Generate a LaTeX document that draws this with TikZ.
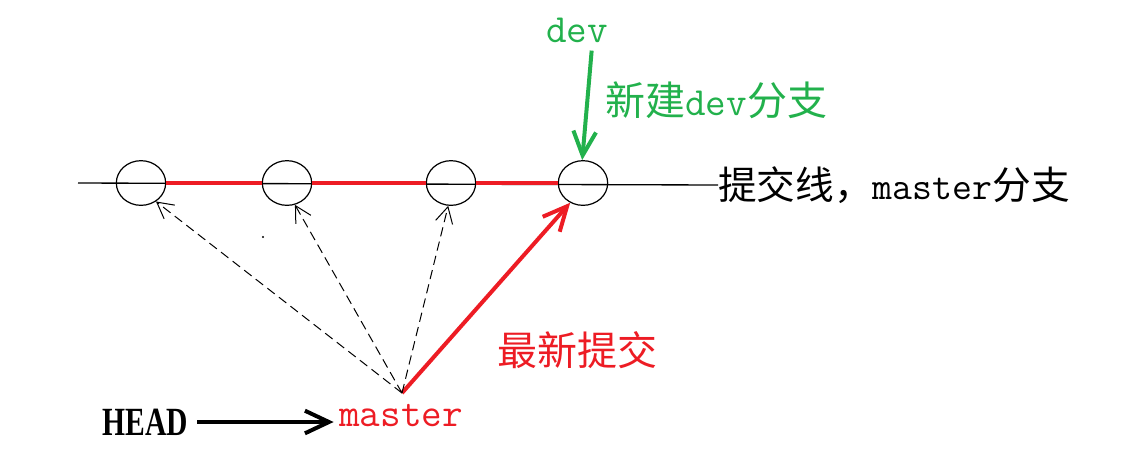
\documentclass[tikz,border=0pt]{standalone}
\usepackage{fontspec}
\newfontfamily\cjk{Noto Sans CJK SC}
\newfontfamily\headfont{Liberation Serif}
\usetikzlibrary{arrows.meta,shapes.geometric}
\definecolor{pred}{RGB}{237,28,36}
\definecolor{pgreen}{RGB}{34,177,76}
\begin{document}
\begin{tikzpicture}[x=0.75pt,y=0.75pt,
  commit/.style={ellipse,draw=black,line width=0.9pt,minimum width=37pt,minimum height=33.5pt,inner sep=0pt},
  lbl/.style={inner sep=0pt,font=\fontsize{30}{32}\selectfont},
  redline/.style={draw=pred,line width=3pt},
  thickarrow/.style={line width=3pt,-{Straight Barb[length=18pt,width=17pt,line width=3pt]}},
  dasharrow/.style={line width=0.75pt,dash pattern=on 7pt off 4pt,-{Straight Barb[length=12pt,width=13pt,line width=0.75pt]}}]
\useasboundingbox (0,0) rectangle (1127,-462);
% commits
\node[commit] (c1) at (141,-183) {};
\node[commit] (c2) at (287,-183) {};
\node[commit] (c3) at (451,-183) {};
\node[commit] (c4) at (583,-183) {};
% labels
\node[lbl,anchor=west,font=\fontsize{29}{31}\selectfont] (t) at (718,-185) {\cjk 提交线，\ttfamily master\cjk 分支};
\node[lbl,text=pgreen] (dev) at (577,-30) {\ttfamily dev};
\node[lbl,text=pgreen,anchor=west] (nd) at (605,-100) {\cjk 新建\ttfamily dev\cjk 分支};
\node[lbl,text=pred] (zx) at (577,-350) {\cjk 最新提交};
\node[lbl,text=pred] (m) at (401,-416) {\ttfamily master};
\node[lbl] (h) at (145,-422) {\scalebox{0.74}[1]{\headfont\bfseries HEAD}};
\coordinate (L) at (78,-183);
\coordinate (o) at (402,-393);
% commit line
\draw[line width=1pt] (L) -- (t.west);
\draw[redline] (c1.east) -- (c2.west);
\draw[redline] (c2.east) -- (c3.west);
\draw[redline] (c3.east) -- (c4.west);
% arrows
\draw[thickarrow,draw=pgreen] ([xshift=11pt,yshift=-6pt]dev.south) -- (c4.92);
\draw[thickarrow,draw=pred] (o) -- (c4.-123);
\draw[thickarrow] ([xshift=7pt]h.east) -- ([xshift=-4pt]h.east -| m.west);
\draw[dasharrow] (o) -- (c1.-51);
\draw[dasharrow] (o) -- (c2.-70);
\draw[dasharrow] (o) -- (c3.-97);
\fill (263,-237) circle (0.9pt);
\end{tikzpicture}
\end{document}
